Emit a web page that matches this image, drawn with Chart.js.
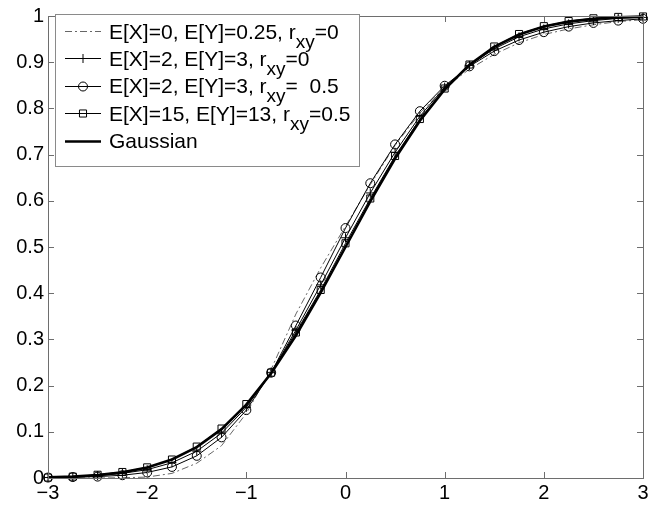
<!DOCTYPE html>
<html>
<head>
<meta charset="utf-8">
<title>CDF comparison</title>
<script src="https://cdn.jsdelivr.net/npm/chart.js@4.4.1/dist/chart.umd.min.js"></script>
<style>
  html, body { margin: 0; padding: 0; background: #ffffff; }
  #wrap { width: 671px; height: 506px; }
</style>
</head>
<body>
<div id="wrap"><canvas id="cdfChart" width="671" height="506"></canvas></div>
<script>
// x positions of the samples (step 0.25)
const xValues = [-3, -2.75, -2.5, -2.25, -2, -1.75, -1.5, -1.25, -1, -0.75, -0.5, -0.25,
  0, 0.25, 0.5, 0.75, 1, 1.25, 1.5, 1.75, 2, 2.25, 2.5, 2.75, 3];

// values
const seriesDashDot = [0, 0, 0, 0.0005, 0.002, 0.01, 0.032, 0.07, 0.14, 0.235, 0.355, 0.455,
  0.545, 0.635, 0.72, 0.79, 0.845, 0.885, 0.917, 0.942, 0.96, 0.972, 0.981, 0.988, 0.992];
const seriesPlus = [0.001, 0.002, 0.005, 0.01, 0.018, 0.033, 0.058, 0.097, 0.153, 0.228, 0.32, 0.418,
  0.52, 0.617, 0.705, 0.783, 0.846, 0.893, 0.929, 0.955, 0.972, 0.983, 0.99, 0.995, 0.997];
const seriesCircle = [0.001, 0.002, 0.003, 0.006, 0.012, 0.024, 0.048, 0.088, 0.147, 0.228, 0.33, 0.434,
  0.541, 0.638, 0.722, 0.794, 0.849, 0.891, 0.924, 0.948, 0.965, 0.977, 0.985, 0.99, 0.994];
const seriesSquare = [0.001, 0.003, 0.007, 0.013, 0.023, 0.04, 0.068, 0.107, 0.16, 0.228, 0.315, 0.407,
  0.508, 0.605, 0.697, 0.777, 0.843, 0.895, 0.934, 0.961, 0.978, 0.989, 0.995, 0.998, 0.999];
const seriesGaussian = [0.0013, 0.003, 0.0062, 0.0122, 0.0228, 0.0401, 0.0668, 0.1057, 0.1587, 0.2266, 0.3085, 0.4013,
  0.5, 0.5987, 0.6915, 0.7734, 0.8413, 0.8944, 0.9332, 0.9599, 0.9773, 0.9878, 0.9938, 0.997, 0.9987];

const legendLabels = [
  "E[X]=0, E[Y]=0.25, r_{xy}=0",
  "E[X]=2, E[Y]=3, r_{xy}=0",
  "E[X]=2, E[Y]=3, r_{xy}=  0.5",
  "E[X]=15, E[Y]=13, r_{xy}=0.5",
  "Gaussian",
];

const xTicks = [-3, -2, -1, 0, 1, 2, 3];
const yTicks = [0, 0.1, 0.2, 0.3, 0.4, 0.5, 0.6, 0.7, 0.8, 0.9, 1];

const FONT = "Liberation Sans, Arial, Helvetica, sans-serif";

function toPoints(ys) {
  return xValues.map((x, i) => ({ x: x, y: ys[i] }));
}

// Style for each series, in legend order
const seriesStyles = [
  { data: seriesDashDot, color: "#666666", width: 1, dash: [7, 3, 2, 3], marker: false, radius: 0 },
  { data: seriesPlus, color: "#000000", width: 1, dash: [], marker: "cross", radius: 4.5 },
  { data: seriesCircle, color: "#000000", width: 1, dash: [], marker: "circle", radius: 4.5 },
  { data: seriesSquare, color: "#000000", width: 1, dash: [], marker: "rect", radius: 5 },
  { data: seriesGaussian, color: "#000000", width: 2.6, dash: [], marker: false, radius: 0 },
];

// Draws the axes box with inward ticks, like the original figure
const boxPlugin = {
  id: "boxPlugin",
  afterDatasetsDraw(chart) {
    const { ctx, chartArea: a, scales } = chart;
    ctx.save();
    ctx.strokeStyle = "#6e6e6e";
    ctx.lineWidth = 1;
    ctx.strokeRect(Math.round(a.left) + 0.5, Math.round(a.top) + 0.5,
      Math.round(a.right - a.left), Math.round(a.bottom - a.top));
    ctx.beginPath();
    const len = 6;
    xTicks.forEach((v) => {
      const px = Math.round(scales.x.getPixelForValue(v)) + 0.5;
      ctx.moveTo(px, a.bottom); ctx.lineTo(px, a.bottom - len);
      ctx.moveTo(px, a.top); ctx.lineTo(px, a.top + len);
    });
    yTicks.forEach((v) => {
      const py = Math.round(scales.y.getPixelForValue(v)) + 0.5;
      ctx.moveTo(a.left, py); ctx.lineTo(a.left + len, py);
      ctx.moveTo(a.right, py); ctx.lineTo(a.right - len, py);
    });
    ctx.stroke();
    ctx.restore();
  },
};

// Draws a text with "_{...}" parts as subscripts, returns the end x
function drawRichText(ctx, text, x, y) {
  const parts = text.split(/(_\{[^}]*\})/);
  let cx = x;
  parts.forEach((p) => {
    if (!p) return;
    if (p.startsWith("_{")) {
      const sub = p.slice(2, -1);
      ctx.font = "19px " + FONT;
      ctx.fillText(sub, cx, y + 9);
      cx += ctx.measureText(sub).width;
    } else {
      ctx.font = "21px " + FONT;
      ctx.fillText(p, cx, y);
      cx += ctx.measureText(p).width;
    }
  });
  return cx;
}

const legendPlugin = {
  id: "legendPlugin",
  afterDraw(chart) {
    const { ctx } = chart;
    const box = { left: 55, top: 14, width: 304, height: 152 };
    ctx.save();
    ctx.fillStyle = "#ffffff";
    ctx.fillRect(box.left, box.top, box.width, box.height);
    ctx.strokeStyle = "#8a8a8a";
    ctx.lineWidth = 1;
    ctx.strokeRect(box.left + 0.5, box.top + 0.5, box.width, box.height);

    legendLabels.forEach((label, i) => {
      const st = seriesStyles[i];
      const baseline = 38.5 + i * 27.4;
      const ly = Math.round(baseline - 7.5) + 0.5;
      ctx.strokeStyle = st.color;
      ctx.lineWidth = st.width;
      ctx.setLineDash(st.dash);
      ctx.beginPath();
      ctx.moveTo(65, ly);
      ctx.lineTo(101, ly);
      ctx.stroke();
      ctx.setLineDash([]);
      if (st.marker) {
        ctx.lineWidth = 1;
        ctx.strokeStyle = "#000000";
        ctx.fillStyle = "rgba(0,0,0,0)";
        Chart.helpers.drawPoint(ctx, { pointStyle: st.marker, radius: st.radius, borderWidth: 1 }, 83, ly);
      }
      ctx.fillStyle = "#000000";
      ctx.textBaseline = "alphabetic";
      drawRichText(ctx, label, 109, baseline);
    });
    ctx.restore();
  },
};

function createCdfChart() {
  const ctx = document.getElementById("cdfChart").getContext("2d");

  const datasets = seriesStyles.map((st, i) => ({
    label: legendLabels[i],
    data: toPoints(st.data),
    borderColor: st.color,
    borderWidth: st.width,
    borderDash: st.dash,
    backgroundColor: "rgba(0,0,0,0)",
    pointStyle: st.marker || "circle",
    pointRadius: st.radius,
    pointBorderWidth: 1,
    pointBorderColor: "#000000",
    pointBackgroundColor: "rgba(0,0,0,0)",
    showLine: true,
    tension: 0,
    fill: false,
    clip: false,
    order: i === 4 ? 0 : 5 - i,
  }));

  new Chart(ctx, {
    type: "scatter",
    data: { datasets: datasets },
    options: {
      responsive: false,
      animation: false,
      events: [],
      layout: { padding: { top: 8, right: 28, left: 0, bottom: 0 } },
      plugins: {
        legend: { display: false },
        tooltip: { enabled: false },
      },
      scales: {
        x: {
          type: "linear",
          min: -3,
          max: 3,
          afterBuildTicks: (scale) => { scale.ticks = xTicks.map((v) => ({ value: v })); },
          afterFit: (scale) => { scale.height = 28; },
          grid: { display: false, drawTicks: false },
          border: { display: false },
          ticks: {
            color: "#000000",
            padding: 3,
            maxRotation: 0,
            font: { family: FONT, size: 20 },
            callback: (v) => String(v).replace("-", "\u2212"),
          },
        },
        y: {
          type: "linear",
          min: 0,
          max: 1,
          afterBuildTicks: (scale) => { scale.ticks = yTicks.map((v) => ({ value: v })); },
          afterFit: (scale) => { scale.width = 48; },
          grid: { display: false, drawTicks: false },
          border: { display: false },
          ticks: {
            color: "#000000",
            padding: 4,
            font: { family: FONT, size: 20 },
            callback: (v) => (v === 0 || v === 1 ? String(v) : v.toFixed(1)),
          },
        },
      },
    },
    plugins: [boxPlugin, legendPlugin],
  });
}

createCdfChart();
</script>
</body>
</html>
